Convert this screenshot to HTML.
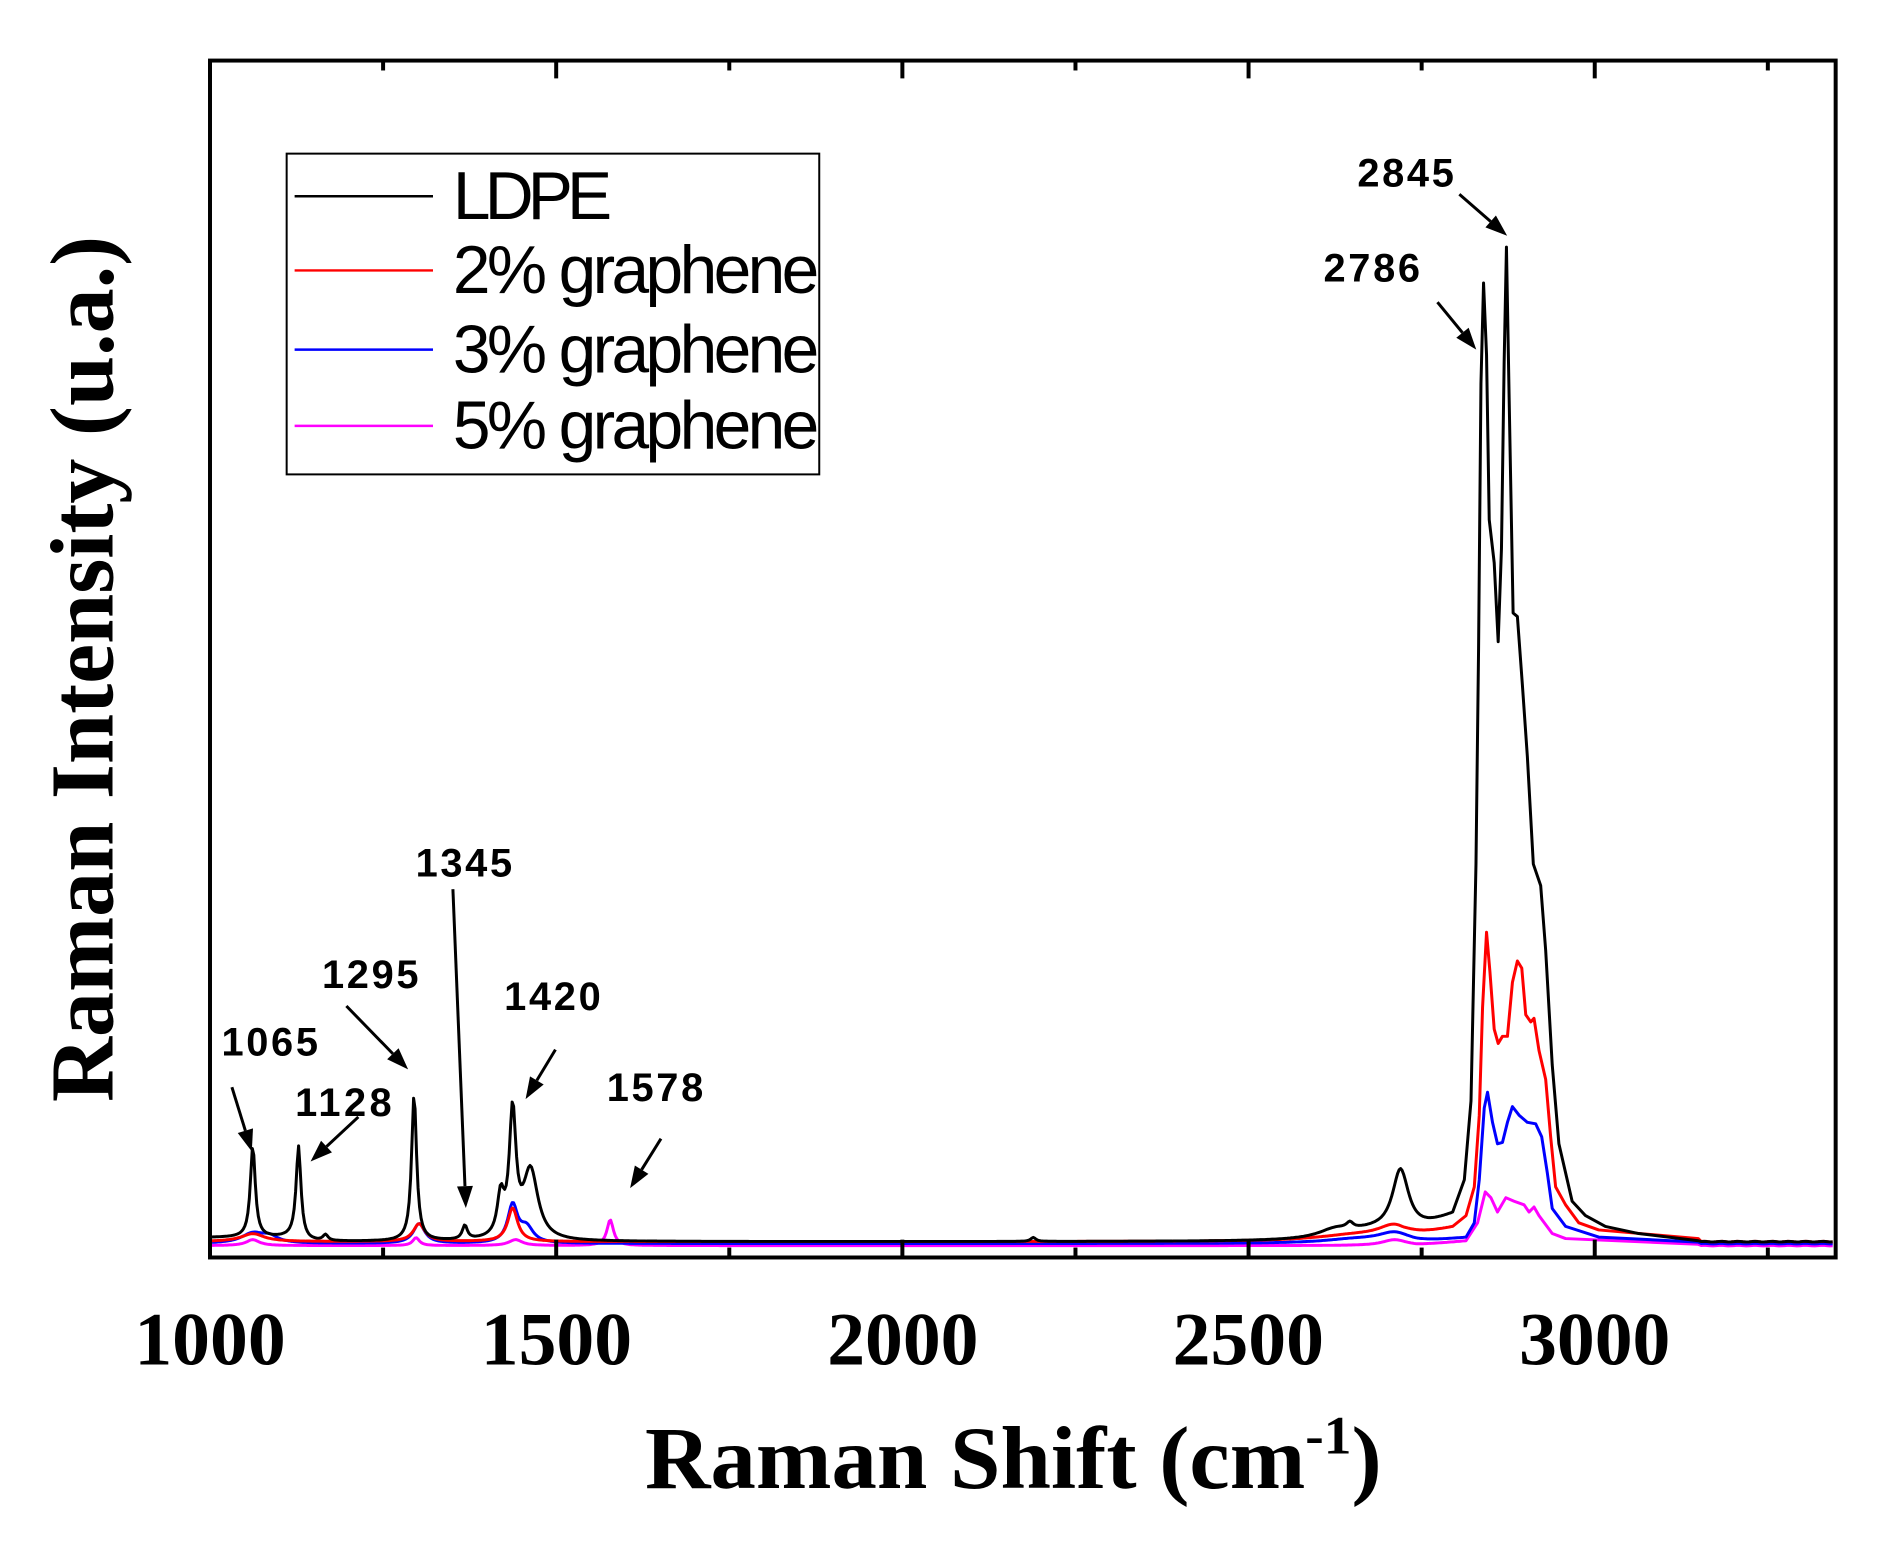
<!DOCTYPE html>
<html><head><meta charset="utf-8"><style>html,body{margin:0;padding:0;background:#fff}svg{display:block}</style></head>
<body>
<svg id="s" xmlns="http://www.w3.org/2000/svg" width="1897" height="1543" viewBox="0 0 1897 1543">
<rect width="1897" height="1543" fill="#fff"/>
<g transform="matrix(0.9955,0,0,0.99,0.95,-1.8)">
<g id="curves" fill="none" stroke-width="3" stroke-linejoin="round"></g>
<rect x="210" y="63" width="1633" height="1209" fill="none" stroke="#000" stroke-width="4"/>
<g id="ticks" stroke="#000" stroke-width="4"></g>
<g font-family="Liberation Serif, serif" font-weight="bold" font-size="76" text-anchor="middle">
<text x="210" y="1380">1000</text><text x="558" y="1380">1500</text><text x="906" y="1380">2000</text><text x="1253" y="1380">2500</text><text x="1601" y="1380">3000</text>
</g>
<text x="647" y="1505" font-family="Liberation Serif, serif" font-weight="bold" font-size="90" textLength="740" lengthAdjust="spacingAndGlyphs">Raman Shift (cm<tspan dy="-35" font-size="55">-1</tspan><tspan dy="35">)</tspan></text>
<text transform="translate(112,1115) rotate(-90)" font-family="Liberation Serif, serif" font-weight="bold" font-size="90" textLength="875" lengthAdjust="spacingAndGlyphs">Raman Intensity (u.a.)</text>
<rect x="287" y="157" width="535" height="324" fill="#fff" stroke="#000" stroke-width="2"/>
<g stroke-width="2.5"><line x1="295" x2="434" y1="200" y2="200" stroke="#000"/><line x1="295" x2="434" y1="275" y2="275" stroke="#f00"/><line x1="295" x2="434" y1="355" y2="355" stroke="#00f"/><line x1="295" x2="434" y1="432" y2="432" stroke="#f0f"/></g>
<g font-family="Liberation Sans, sans-serif" font-size="68" lengthAdjust="spacingAndGlyphs">
<text x="454" y="223" textLength="160">LDPE</text><text x="454" y="298" textLength="368">2% graphene</text><text x="454" y="378" textLength="368">3% graphene</text><text x="454" y="455" textLength="368">5% graphene</text>
</g>
<g font-family="Liberation Sans, sans-serif" font-weight="bold" font-size="40" lengthAdjust="spacingAndGlyphs" text-anchor="middle">
<text x="270" y="1068" textLength="97">1065</text><text x="344" y="1129" textLength="97">1128</text><text x="371" y="1000" textLength="97">1295</text><text x="465" y="887" textLength="97">1345</text><text x="554" y="1022" textLength="97">1420</text><text x="657" y="1114" textLength="97">1578</text><text x="1411" y="190" textLength="97">2845</text><text x="1377" y="286" textLength="97">2786</text>
</g>
<g id="arrows" stroke="#000" stroke-width="3"></g>
</g>
</svg>
<script>
var NS="http://www.w3.org/2000/svg";
function el(p,t,a){var e=document.createElementNS(NS,t);for(var k in a)e.setAttribute(k,a[k]);p.appendChild(e);return e;}
var tk=document.getElementById('ticks');
for(var v=1000;v<=3350;v+=250){var x=210+(v-1000)*0.6955;var L=(v%500==0)?18:10;
el(tk,'line',{x1:x,x2:x,y1:1272,y2:1272-L});el(tk,'line',{x1:x,x2:x,y1:63,y2:63+L});}
var ar=document.getElementById('arrows');
[[232,1100,252,1165],[359,1130,311,1175],[347,1018,409,1082],[454,900,467,1222],[557,1062,527,1112],[663,1152,632,1202],[1465,198,1513,240],[1443,307,1482,355]].forEach(function(a){
var dx=a[2]-a[0],dy=a[3]-a[1],l=Math.hypot(dx,dy),ux=dx/l,uy=dy/l,h=22,w=8;
var bx=a[2]-ux*h,by=a[3]-uy*h;
el(ar,'line',{x1:a[0],y1:a[1],x2:bx,y2:by});
el(ar,'polygon',{points:a[2]+','+a[3]+' '+(bx-uy*w)+','+(by+ux*w)+' '+(bx+uy*w)+','+(by-ux*w),fill:'#000',stroke:'none'});});
function lor(x,p){var s=0;p.forEach(function(q){var d=(x-q[0])/q[2];s+=q[1]/(1+d*d);});return s;}
function conv(z){return z.filter(function(p){return p[0]>=160;}).map(function(p){return [1405+p[0]/3,150+p[1]/1.38];});}
function build(base,peaks,main,color){
var pts=[];var mx=main[0][0];
var d=main[0][1]-(base(mx)-lor(mx,peaks));
for(var x=212;x<mx;x+=1.5){var f=Math.max(0,1-(mx-x)/50);pts.push([x,base(x)-lor(x,peaks)+d*f]);}
main.forEach(function(p){pts.push(p);});
var ex=main[main.length-1][0];
for(var x=ex+3;x<=1841;x+=3){pts.push([x,base(x)+Math.sin(x*0.37)*0.3]);}
el(document.getElementById('curves'),'polyline',{points:pts.map(function(p){return p[0].toFixed(1)+','+p[1].toFixed(1)}).join(' '),stroke:color});}
build(function(x){return 1260},[[253,6,8],[417,8,4],[517,6,8],[612,26,4],[1400,6,15]],
conv([[0,1525],[200,1525],[235,1500],[258,1457],[275,1465],[295,1485],[320,1465],[345,1470],[375,1475],[390,1485],[405,1478],[420,1490],[460,1515],[500,1522],[900,1530]]),'#f0f');
build(function(x){return 1258},[[253,10,14],[270,6,10],[420,20,7],[514,38,6],[528,15,8],[1400,10,20],[1360,4,40]],
conv([[0,1515],[100,1520],[200,1520],[225,1500],[240,1440],[255,1340],[265,1318],[280,1360],[295,1390],[310,1388],[325,1360],[340,1338],[360,1350],[385,1360],[410,1362],[428,1380],[445,1430],[460,1480],[500,1505],[600,1520],[900,1527]]),'#00f');
build(function(x){return 1256},[[253,8,14],[420,18,7],[514,34,6],[1400,14,20],[1360,6,50]],
conv([[0,1500],[60,1510],[160,1505],[200,1490],[225,1450],[240,1350],[250,1200],[262,1095],[272,1150],[285,1230],[297,1250],[310,1240],[325,1240],[340,1165],[355,1135],[368,1145],[380,1210],[395,1220],[405,1215],[420,1260],[440,1300],[455,1380],[470,1450],[500,1475],[540,1500],[600,1510],[900,1522]]),'#f00');
build(function(x){return x<300?1252:1256},[[253,92,3],[299,92,3],[326,6,3],[415,148,3],[466,14,3],[502,40,4],[514,125,4],[532,70,9],[1037,4,3],[1406,66,10],[1340,8,20],[1355,6,4],[1380,10,40]],
conv([[0,1420],[20,1465],[60,1495],[100,1492],[160,1485],[195,1440],[215,1330],[230,1000],[238,700],[245,330],[253,190],[262,290],[270,520],[285,580],[297,690],[307,560],[315,300],[322,140],[330,350],[342,650],[355,655],[370,750],[385,850],[403,1000],[425,1030],[440,1120],[460,1280],[480,1390],[520,1470],[560,1490],[620,1505],[720,1515],[900,1525]]),'#000');
</script>
</body></html>
